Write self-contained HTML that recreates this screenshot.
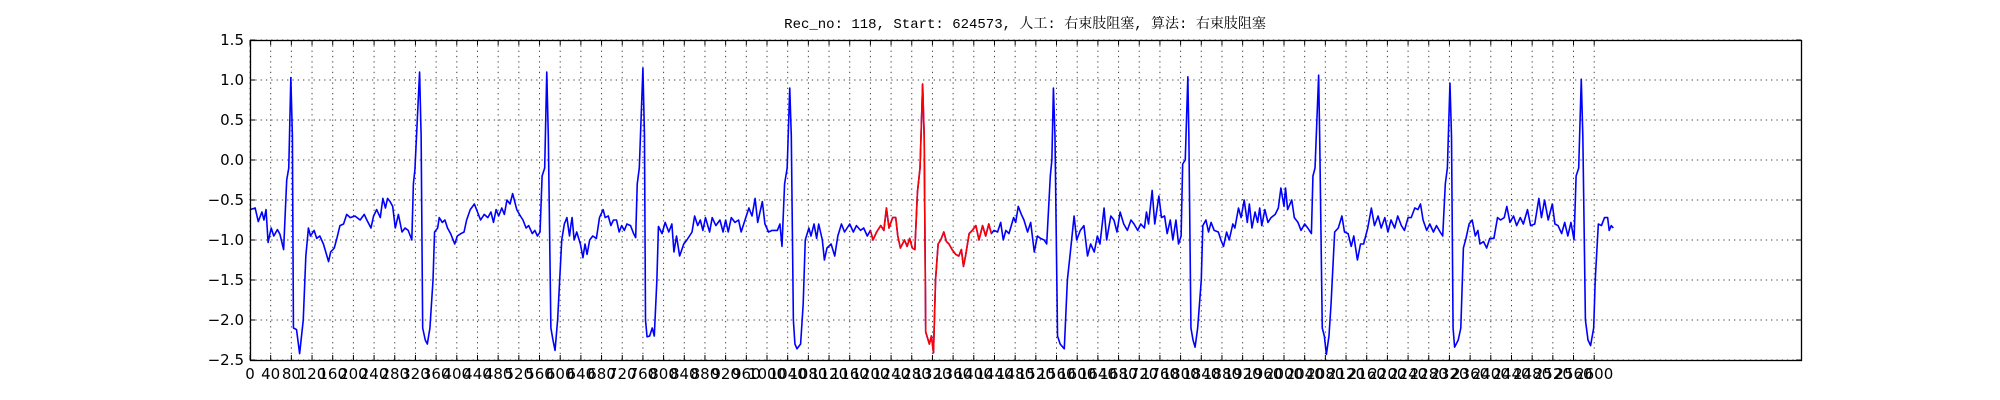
<!DOCTYPE html>
<html><head><meta charset="utf-8">
<style>
html,body{margin:0;padding:0;background:#fff;}
svg{display:block;}
</style></head>
<body>
<svg id="chart" width="2000" height="400" xmlns="http://www.w3.org/2000/svg">
<text x="1025" y="28" text-anchor="middle" font-family="'Liberation Mono','Noto Serif CJK SC',monospace" font-size="14" fill="#000">Rec_no: 118, Start: 624573, 人工: 右束肢阻塞, 算法: 右束肢阻塞</text>
<g id="grid"></g>
<g id="series"></g>
<rect x="250.5" y="40.5" width="1551" height="320" fill="none" stroke="#000" stroke-width="1.3"/>
<g id="ticks"></g>
</svg>
<script>
const sampleIdx = [0,10,16,23,27,31,35,41,46,53,58,65,71,75,79,82,84,90,96,103,108,113,117,124,129,135,142,152,156,163,168,174,181,187,194,203,213,221,226,234,239,245,252,257,262,266,271,276,281,287,294,300,306,313,316,319,328,331,334,339,343,348,354,357,363,366,372,377,382,388,396,401,408,414,419,426,434,440,446,453,460,466,471,476,481,487,492,497,503,508,516,523,528,534,539,546,551,556,561,565,570,574,577,582,586,590,595,599,603,608,613,618,621,623,627,632,639,644,648,652,657,663,670,676,683,687,693,698,703,709,714,719,724,729,736,742,746,749,753,760,763,765,768,773,778,782,787,790,797,803,810,816,820,825,831,839,845,855,860,866,871,876,881,889,894,901,909,915,920,925,931,938,945,950,956,965,971,977,982,991,996,1003,1010,1020,1025,1029,1034,1039,1044,1047,1051,1054,1058,1065,1070,1074,1081,1085,1091,1096,1100,1107,1111,1116,1124,1131,1137,1144,1150,1160,1167,1173,1181,1187,1194,1200,1205,1212,1220,1226,1231,1236,1243,1249,1253,1258,1266,1271,1276,1281,1286,1291,1296,1301,1304,1307,1314,1318,1322,1326,1331,1336,1342,1347,1352,1358,1365,1371,1376,1380,1384,1391,1397,1404,1410,1417,1423,1429,1434,1439,1446,1452,1457,1462,1468,1477,1481,1486,1492,1497,1504,1510,1517,1523,1529,1536,1541,1548,1551,1554,1557,1562,1567,1575,1581,1586,1594,1599,1606,1613,1620,1626,1633,1639,1644,1652,1657,1665,1671,1677,1683,1690,1697,1704,1710,1717,1723,1730,1734,1738,1745,1750,1758,1763,1769,1774,1780,1785,1791,1796,1801,1804,1809,1814,1816,1820,1824,1828,1833,1840,1843,1849,1854,1859,1865,1873,1878,1883,1889,1894,1901,1905,1912,1917,1923,1929,1933,1938,1944,1949,1953,1957,1963,1969,1975,1983,1989,1994,2000,2003,2007,2015,2020,2027,2033,2040,2046,2053,2056,2060,2067,2069,2074,2078,2082,2087,2091,2098,2105,2112,2117,2124,2130,2135,2142,2148,2154,2162,2169,2175,2182,2188,2195,2201,2207,2214,2220,2227,2233,2240,2246,2253,2259,2264,2269,2276,2282,2289,2295,2302,2307,2312,2316,2321,2324,2327,2330,2337,2342,2347,2352,2358,2364,2370,2375,2379,2386,2392,2398,2406,2413,2419,2426,2431,2437,2444,2450,2457,2463,2471,2477,2485,2493,2498,2504,2511,2519,2524,2530,2537,2543,2549,2555,2561,2565,2570,2575,2578,2583,2588,2593,2599,2602,2608,2614,2620,2626,2629,2633,2637];
const ecgValues = [-0.62,-0.6,-0.77,-0.65,-0.75,-0.62,-1.03,-0.85,-0.95,-0.87,-0.93,-1.12,-0.25,-0.1,1.03,0.3,-2.1,-2.12,-2.42,-2.0,-1.2,-0.85,-0.95,-0.88,-0.98,-0.95,-1.05,-1.27,-1.15,-1.1,-0.98,-0.82,-0.8,-0.68,-0.72,-0.7,-0.75,-0.68,-0.75,-0.85,-0.7,-0.62,-0.72,-0.48,-0.6,-0.48,-0.52,-0.58,-0.85,-0.68,-0.9,-0.85,-0.88,-1.0,-0.3,-0.12,1.1,0.3,-2.1,-2.25,-2.3,-2.1,-1.5,-0.9,-0.85,-0.72,-0.78,-0.75,-0.85,-0.92,-1.05,-0.95,-0.92,-0.9,-0.75,-0.62,-0.55,-0.65,-0.75,-0.68,-0.72,-0.65,-0.78,-0.62,-0.7,-0.6,-0.68,-0.5,-0.55,-0.42,-0.62,-0.7,-0.75,-0.85,-0.82,-0.92,-0.88,-0.95,-0.9,-0.2,-0.1,1.1,0.3,-2.1,-2.25,-2.38,-2.0,-1.5,-1.0,-0.8,-0.72,-0.95,-0.8,-0.72,-1.0,-0.9,-1.05,-1.22,-1.05,-1.18,-1.0,-0.95,-0.98,-0.72,-0.62,-0.72,-0.7,-0.82,-0.75,-0.75,-0.9,-0.82,-0.88,-0.8,-0.82,-0.92,-0.97,-0.3,-0.1,1.15,0.3,-2.0,-2.21,-2.2,-2.1,-2.2,-1.5,-0.83,-0.92,-0.78,-0.9,-0.8,-1.15,-0.95,-1.2,-1.05,-1.0,-0.9,-0.7,-0.82,-0.75,-0.88,-0.72,-0.9,-0.72,-0.82,-0.75,-0.9,-0.75,-0.9,-0.72,-0.78,-0.75,-0.9,-0.78,-0.6,-0.7,-0.48,-0.78,-0.52,-0.8,-0.9,-0.88,-0.88,-0.8,-1.08,-0.3,-0.1,0.9,0.3,-2.0,-2.3,-2.36,-2.3,-1.8,-1.0,-0.85,-0.95,-0.8,-0.98,-0.8,-1.0,-1.25,-1.1,-1.05,-1.2,-0.95,-0.8,-0.9,-0.8,-0.9,-0.82,-0.88,-0.85,-0.95,-0.88,-1.0,-0.9,-0.82,-0.88,-0.6,-0.85,-0.72,-0.72,-0.95,-1.1,-1.0,-1.08,-0.98,-1.1,-1.12,-0.4,-0.1,0.95,0.3,-2.15,-2.3,-2.2,-2.41,-1.5,-1.05,-1.0,-0.9,-1.02,-1.05,-1.12,-1.18,-1.2,-1.12,-1.33,-1.2,-0.92,-0.88,-0.82,-1.0,-0.82,-0.95,-0.8,-0.92,-0.88,-0.9,-0.78,-1.0,-0.88,-0.92,-0.72,-0.78,-0.58,-0.68,-0.75,-0.9,-0.78,-1.15,-0.95,-0.98,-1.0,-1.05,-0.2,0.0,0.9,0.3,-2.2,-2.3,-2.36,-1.5,-1.2,-0.7,-1.0,-0.88,-0.82,-1.2,-1.05,-1.15,-0.95,-1.05,-0.6,-1.0,-0.7,-0.75,-0.9,-0.65,-0.8,-0.88,-0.75,-0.8,-0.88,-0.8,-0.85,-0.65,-0.8,-0.38,-0.8,-0.45,-0.72,-0.7,-0.92,-0.75,-1.0,-0.75,-1.05,-0.95,-0.05,0.0,1.04,0.3,-2.1,-2.25,-2.34,-2.1,-1.5,-0.82,-0.75,-0.9,-0.78,-0.88,-0.9,-1.0,-1.08,-0.9,-1.0,-0.8,-0.85,-0.6,-0.72,-0.5,-0.78,-0.55,-0.85,-0.65,-0.78,-0.6,-0.82,-0.62,-0.78,-0.72,-0.68,-0.6,-0.35,-0.58,-0.35,-0.62,-0.5,-0.72,-0.78,-0.88,-0.8,-0.85,-0.92,-0.2,-0.1,1.06,0.3,-2.1,-2.2,-2.43,-2.2,-1.8,-0.9,-0.85,-0.7,-0.9,-0.92,-1.08,-0.95,-1.25,-1.05,-1.05,-0.85,-0.6,-0.82,-0.7,-0.85,-0.72,-0.9,-0.75,-0.85,-0.7,-0.82,-0.88,-0.72,-0.72,-0.6,-0.62,-0.55,-0.75,-0.88,-0.8,-0.9,-0.82,-0.9,-0.95,-0.3,-0.1,0.96,0.3,-2.1,-2.34,-2.25,-2.1,-1.1,-0.98,-0.8,-0.75,-0.95,-0.88,-1.05,-1.02,-1.1,-0.98,-0.98,-0.72,-0.75,-0.72,-0.58,-0.78,-0.7,-0.82,-0.72,-0.8,-0.62,-0.82,-0.8,-0.48,-0.72,-0.5,-0.75,-0.55,-0.8,-0.82,-0.92,-0.78,-0.95,-0.78,-1.0,-0.2,-0.1,1.01,0.3,-2.0,-2.25,-2.32,-2.1,-1.5,-0.8,-0.82,-0.72,-0.72,-0.88,-0.82,-0.85];
const redRange = [1200, 1434];
const xTickLabels = [];
for (let t = 0; t <= 2600; t += 40) xTickLabels.push(t);
const yTickLabels = [1.5, 1.0, 0.5, 0.0, -0.5, -1.0, -1.5, -2.0, -2.5];
const xDomain = [0, 3000];
const yDomain = [-2.5, 1.5];

const L = 250, R = 1801, T = 40, B = 360;
const NS = 'http://www.w3.org/2000/svg';
function xs(v){ return L + (v - xDomain[0]) / (xDomain[1] - xDomain[0]) * (R - L); }
function ys(v){ return B - (v - yDomain[0]) / (yDomain[1] - yDomain[0]) * (B - T); }
function mk(tag, attrs){ const e = document.createElementNS(NS, tag); for (const k in attrs) e.setAttribute(k, attrs[k]); return e; }

const grid = document.getElementById('grid');
const ticks = document.getElementById('ticks');
const series = document.getElementById('series');

xTickLabels.forEach(t => {
  const x = xs(t);
  const g = mk('line', {x1:x, x2:x, y1:T, y2:B, stroke:'#000', 'stroke-width':1, 'stroke-dasharray':'1.3,4', opacity:0.75});
  
  
  grid.appendChild(g);
  const tk1 = mk('line', {x1:x, x2:x, y1:B, y2:B-5, stroke:'#000', 'stroke-width':1});
  
  
  ticks.appendChild(tk1);
  const tk2 = mk('line', {x1:x, x2:x, y1:T, y2:T+5, stroke:'#000', 'stroke-width':1});
  
  
  ticks.appendChild(tk2);
  const lb = mk('text', {x:x, y:B+19, 'text-anchor':'middle', 'font-family':"'DejaVu Sans','Liberation Sans',sans-serif", 'font-size':15, fill:'#000'});
  
  
  lb.textContent = String(t);
  ticks.appendChild(lb);
});
yTickLabels.forEach(v => {
  const y = ys(v);
  const g = mk('line', {x1:L, x2:R, y1:y, y2:y, stroke:'#000', 'stroke-width':1, 'stroke-dasharray':'1.3,4', opacity:0.75});
  
  
  grid.appendChild(g);
  const tk1 = mk('line', {x1:L, x2:L+5, y1:y, y2:y, stroke:'#000', 'stroke-width':1});
  
  
  ticks.appendChild(tk1);
  const tk2 = mk('line', {x1:R, x2:R-5, y1:y, y2:y, stroke:'#000', 'stroke-width':1});
  
  
  ticks.appendChild(tk2);
  const lb = mk('text', {x:L-6, y:y+5, 'text-anchor':'end', 'font-family':"'DejaVu Sans','Liberation Sans',sans-serif", 'font-size':15, fill:'#000'});
  
  
  lb.textContent = v.toFixed(1).replace('-', '\u2212');
  ticks.appendChild(lb);
});

let dAll = '', dRed = '';
sampleIdx.forEach((s, i) => {
  const p = xs(s).toFixed(2) + ',' + ys(ecgValues[i]).toFixed(2);
  dAll += (i ? 'L' : 'M') + p;
  if (s >= redRange[0] && s <= redRange[1]) dRed += (dRed ? 'L' : 'M') + p;
});
const blue = mk('path', {d:dAll, fill:'none', stroke:'#0000ff', 'stroke-width':1.6, 'stroke-linejoin':'round'});


series.appendChild(blue);
const red = mk('path', {d:dRed, fill:'none', stroke:'#ff0000', 'stroke-width':1.6, 'stroke-linejoin':'round'});


series.appendChild(red);
</script>
</body></html>
